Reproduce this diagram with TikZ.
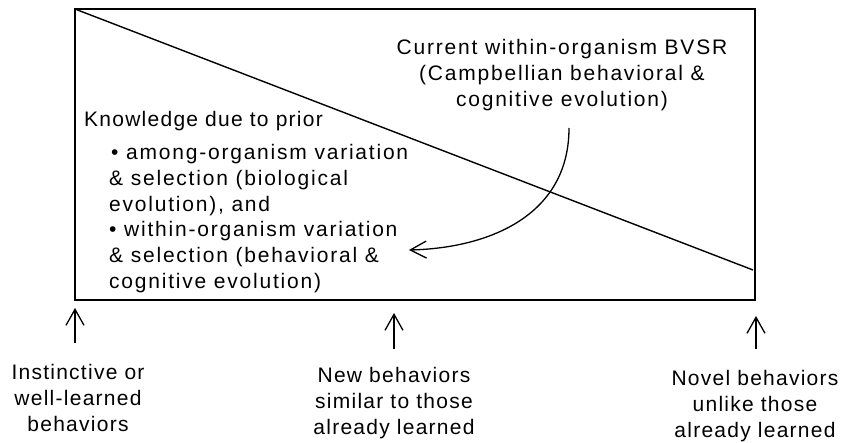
\documentclass[tikz,border=0pt]{standalone}
\usepackage{fontspec}
\newfontfamily\lblfont{Liberation Sans}[LetterSpace=6]
\newfontfamily\widefont{Liberation Sans}[LetterSpace=8.5]
\usetikzlibrary{arrows.meta}
\begin{document}
\begin{tikzpicture}[x=1pt,y=-1pt,
  lbl/.style={font=\lblfont\fontsize{21}{26}\selectfont, inner sep=0pt, align=center},
  lblwide/.style={font=\widefont\fontsize{21}{26}\selectfont, inner sep=0pt, align=center},
  lbllist/.style={font=\widefont\fontsize{21}{25.8}\selectfont, inner sep=0pt, align=left},
  frame/.style={line width=1.6pt},
  slope/.style={line width=1.4pt},
  uparrow/.style={line width=1.3pt, -{Straight Barb[length=16pt,width=18pt]}},
  curvearrow/.style={line width=1.3pt, -{Straight Barb[length=16pt,width=17pt]}}]
\useasboundingbox (0,0) rectangle (841,442);

% frame and falling diagonal
\coordinate (tl) at (75,9);
\coordinate (br) at (755,300);
\coordinate (diagend) at (753,270);
\draw[frame] (tl) rectangle (br);
\draw[slope] (tl) -- (diagend);

% texts inside the frame
\node[lblwide] (current) at (562,75.5)
  {Current within-organism BVSR\\(Campbellian behavioral \&\\cognitive evolution)};
\node[lbl, anchor=west] (knowledge) at (84,121) {Knowledge due to prior};
\node[lbllist, anchor=west] (prior) at (109,218.5)
  {\hspace*{2pt}• among-organism variation\\
   \& selection (biological\\
   evolution), and\\
   • within-organism variation\\
   \& selection (behavioral \&\\
   cognitive evolution)};

% curved arrow from current BVSR to prior knowledge
\coordinate (curstart) at (569,128);
\coordinate (curend) at (409,250);
\draw[curvearrow] (curstart) .. controls (569,215) and (490,248) .. (curend);

% labels along the bottom
\node[lbl] (instinct) at (78,398) {Instinctive or\\well-learned\\behaviors};
\node[lbl] (similar) at (394,403) {New behaviors\\similar to those\\already learned};
\node[lbl] (novel) at (755,406) {Novel behaviors\\unlike those\\already learned};

% up arrows pointing at the frame
\coordinate (a1tail) at (75,343);
\coordinate (a1tip) at (75,308);
\coordinate (a2tail) at (394,349);
\coordinate (a2tip) at (394,313);
\coordinate (a3tail) at (756,349);
\coordinate (a3tip) at (756,316);
\draw[uparrow] (a1tail) -- (a1tip);
\draw[uparrow] (a2tail) -- (a2tip);
\draw[uparrow] (a3tail) -- (a3tip);
\end{tikzpicture}
\end{document}
